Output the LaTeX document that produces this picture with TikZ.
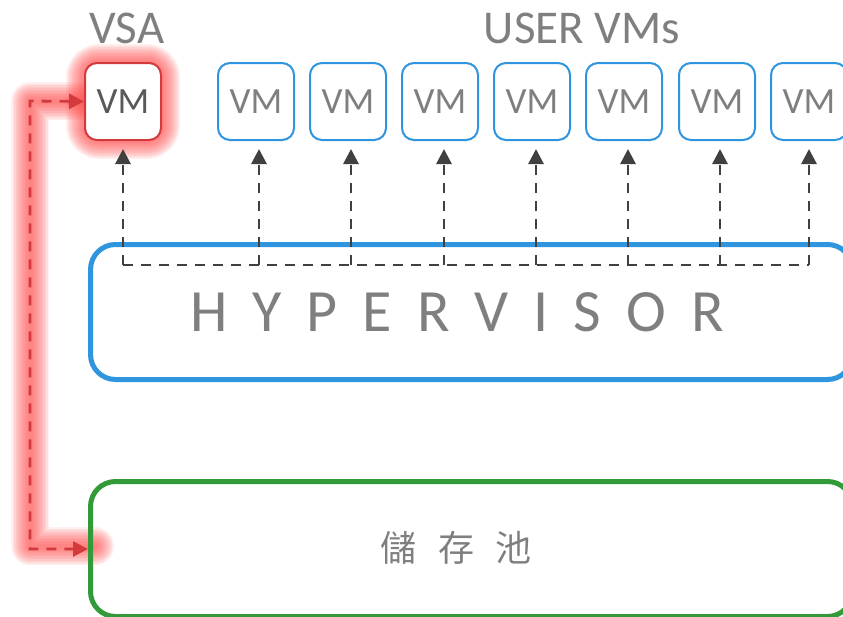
\documentclass[tikz,border=0pt]{standalone}
\usepackage{fontspec}
\setmainfont{Carlito}
\newfontfamily\cjk{Noto Sans CJK TC}
\usetikzlibrary{arrows.meta}
\definecolor{vmblue}{HTML}{2E95DE}
\definecolor{poolgreen}{HTML}{339A3A}
\definecolor{vsared}{HTML}{D23A3C}
\definecolor{glowred}{HTML}{FF4A4A}
\definecolor{txtgray}{HTML}{7F7F7F}
\definecolor{arrgray}{HTML}{404040}
\tikzset{
  vmbox/.style={draw=vmblue, line width=2pt, rounded corners=12pt, minimum width=76pt, minimum height=77pt, inner sep=0pt, text=txtgray, font=\fontsize{37}{37}\selectfont, fill=white},
  vsabox/.style={vmbox, draw=vsared, text=black!65},
  bigbox/.style={line width=5pt, rounded corners=25pt, minimum height=135pt, minimum width=762pt, inner sep=0pt},
  vmarrow/.style={draw=arrgray, line width=2.8pt, dash pattern=on 10pt off 8pt, -{Triangle[length=15pt,width=15pt]}, shorten >=8pt},
  redarrow/.style={draw=vsared, line width=2.8pt, dash pattern=on 10pt off 8pt, {Triangle[length=15pt,width=15pt]}-{Triangle[length=15pt,width=15pt]}},
  toplabel/.style={text=txtgray, font=\fontsize{47}{47}\selectfont},
}
\begin{document}
\begin{tikzpicture}[x=1pt,y=-1pt]
\useasboundingbox (0,0) rectangle (843,616);
% glow around red path and VSA box
\foreach \w in {38,35,...,5}{
  \draw[glowred, opacity=0.09, line width=\w pt, line join=round, line cap=round] (85,101) -- (30,101) -- (30,546) -- (95,546);
  \draw[glowred, opacity=0.09, line width=\w pt, rounded corners=14pt, line join=round] (85,63) rectangle (161,140);
}
% boxes
\node[bigbox, draw=vmblue, anchor=north west] (hyp) at (88,242) {};
\node[text=txtgray, font=\fontsize{60}{60}\selectfont] (hyptxt) at (457,312) {H\hspace{25pt}Y\hspace{25pt}P\hspace{25pt}E\hspace{25pt}R\hspace{25pt}V\hspace{25pt}I\hspace{25pt}S\hspace{25pt}O\hspace{25pt}R};
\node[bigbox, draw=poolgreen, anchor=north west] (pool) at (88,479) {};
\node[text=txtgray, font=\cjk\fontsize{36}{36}\selectfont] (pooltxt) at (456,548) {儲\hspace{22pt}存\hspace{22pt}池};
% VMs
\node[vsabox] (vsa) at (123,101.5) {VM};
\foreach \i/\x in {1/256,2/348,3/440,4/532,5/624,6/717,7/809}{
  \node[vmbox] (vm\i) at (\x,101.5) {VM};
}
\node[toplabel] (vsalbl) at (127,28) {VSA};
\node[toplabel] (userlbl) at (582,28) {USER VMs};
% hypervisor bus
\coordinate (busL) at (123,265);
\coordinate (busR) at (809,265);
\draw[draw=arrgray, line width=2.8pt, dash pattern=on 10pt off 8pt] (busL) -- (busR);
\draw[vmarrow] (busL) -- (vsa.south);
\foreach \i/\x in {1/259,2/351,3/444,4/536,5/628,6/720,7/809}{
  \coordinate (b\i) at (\x,265);
  \draw[vmarrow] (b\i) -- (b\i |- vm\i.south);
}
% red path
\coordinate (rc) at (30,101);
\draw[redarrow] (vsa.west) -- (rc) |- (pool.west);
\end{tikzpicture}
\end{document}
